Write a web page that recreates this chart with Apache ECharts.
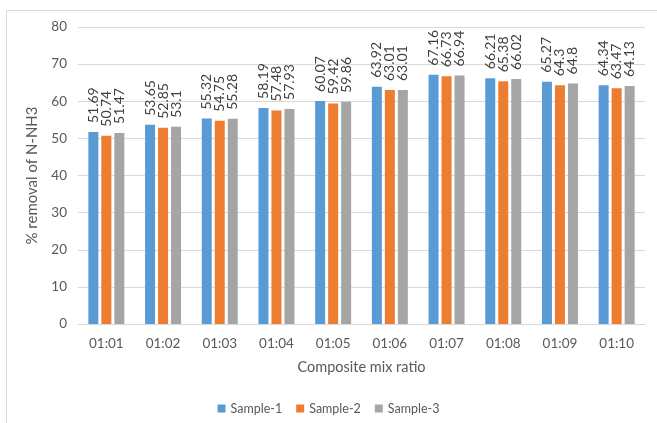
<!DOCTYPE html>
<html>
<head>
<meta charset="utf-8">
<script src="https://cdn.jsdelivr.net/npm/echarts@6/dist/echarts.min.js"></script>
<style>
  html, body { margin: 0; padding: 0; background: #fff; }
  #chart { width: 657px; height: 423px; }
</style>
</head>
<body>
<div id="chart"></div>
<script>
// Mix ratios along the horizontal axis
const ratios = ['01:01', '01:02', '01:03', '01:04', '01:05', '01:06', '01:07', '01:08', '01:09', '01:10'];

// % removal of N-NH3 for each sample
const sample1 = [51.69, 53.65, 55.32, 58.19, 60.07, 63.92, 67.16, 66.21, 65.27, 64.34];
const sample2 = [50.74, 52.85, 54.75, 57.48, 59.42, 63.01, 66.73, 65.38, 64.3, 63.47];
const sample3 = [51.47, 53.1, 55.28, 57.93, 59.86, 63.01, 66.94, 66.02, 64.8, 64.13];

const seriesNames = ['Sample-1', 'Sample-2', 'Sample-3'];
const seriesColors = ['#5b9bd5', '#ed7d31', '#a5a5a5'];

const FONT = 'Lato';
const chart = echarts.init(document.getElementById('chart'), null, { renderer: 'canvas' });

function barSeries(name, data, color) {
  return {
    name: name,
    type: 'bar',
    data: data,
    barWidth: 10,
    barGap: '30%',
    itemStyle: { color: color },
    label: {
      show: true,
      position: 'top',
      rotate: 90,
      align: 'left',
      verticalAlign: 'middle',
      distance: 9,
      color: '#404040',
      fontFamily: FONT,
      fontSize: 14,
      formatter: p => String(p.value)
    }
  };
}

chart.setOption({
  animation: false,
  backgroundColor: '#ffffff',
  textStyle: { fontFamily: FONT },
  graphic: [{
    type: 'rect',
    shape: { x: 6.5, y: 10.5, width: 700, height: 500 },
    style: { fill: 'none', stroke: '#d9d9d9', lineWidth: 1 },
    silent: true,
    z: -1
  }],
  grid: { left: 78, right: 12, top: 27, bottom: 99, containLabel: false },
  legend: {
    bottom: 3,
    left: 'center',
    itemWidth: 8,
    itemHeight: 8,
    itemGap: 14,
    icon: 'rect',
    textStyle: { color: '#595959', fontSize: 12.5, fontFamily: FONT },
    data: seriesNames
  },
  xAxis: {
    type: 'category',
    data: ratios,
    name: 'Composite mix ratio',
    nameLocation: 'middle',
    nameGap: 36,
    nameTextStyle: { color: '#595959', fontSize: 14.5, fontFamily: FONT },
    axisLine: { lineStyle: { color: '#d9d9d9' } },
    axisTick: { show: false },
    axisLabel: { color: '#595959', fontSize: 13.5, margin: 13, fontFamily: FONT }
  },
  yAxis: {
    type: 'value',
    min: 0,
    max: 80,
    interval: 10,
    name: '% removal of N-NH3',
    nameLocation: 'middle',
    nameGap: 38,
    nameTextStyle: { color: '#595959', fontSize: 15, fontFamily: FONT },
    axisLine: { show: false },
    axisTick: { show: false },
    axisLabel: { color: '#595959', fontSize: 13.5, margin: 11, fontFamily: FONT },
    splitLine: { lineStyle: { color: '#d9d9d9' } }
  },
  series: [
    barSeries(seriesNames[0], sample1, seriesColors[0]),
    barSeries(seriesNames[1], sample2, seriesColors[1]),
    barSeries(seriesNames[2], sample3, seriesColors[2])
  ]
});
</script>
</body>
</html>
